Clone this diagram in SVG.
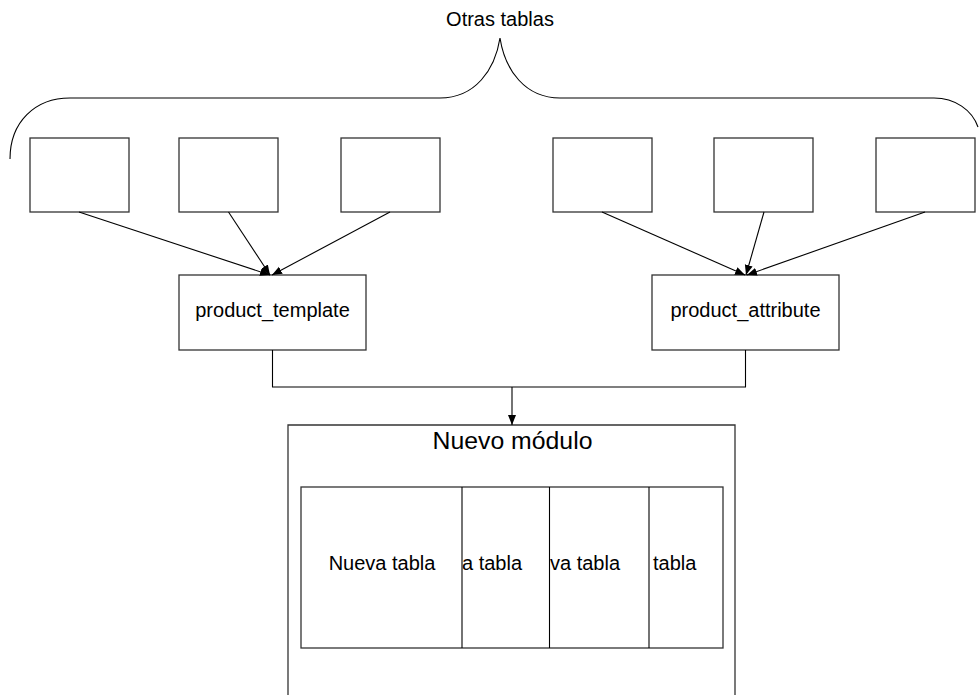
<svg xmlns="http://www.w3.org/2000/svg" width="979" height="695" viewBox="0 0 979 695">
<style>
.box{fill:#fff;stroke:#333;stroke-width:1.3}
.ln{fill:none;stroke:#000;stroke-width:1.1}
.t{font-family:"Liberation Sans",Arial,sans-serif;fill:#000}
</style>
<defs>
<marker id="ah" viewBox="0 0 10 10" refX="10" refY="5" markerWidth="10" markerHeight="10" markerUnits="userSpaceOnUse" orient="auto">
<path d="M0,1 L10,5 L0,9 Z" fill="#000"/>
</marker>
</defs>
<rect width="979" height="695" fill="#fff"/>
<g id="brace">
<path class="ln" d="M10,159 C10,122 35,98 70,98 L440,98 C475,98 495,70 500,38 C505,70 525,98 560,98 L934,98 C955,98 972,110 978,127"/>
<text class="t" x="500" y="26" font-size="20" text-anchor="middle">Otras tablas</text>
</g>
<g id="t1"><rect class="box" x="30" y="138" width="99" height="74"/></g>
<g id="t2"><rect class="box" x="179" y="138" width="99" height="74"/></g>
<g id="t3"><rect class="box" x="341" y="138" width="99" height="74"/></g>
<g id="t4"><rect class="box" x="553" y="138" width="99" height="74"/></g>
<g id="t5"><rect class="box" x="714" y="138" width="99" height="74"/></g>
<g id="t6"><rect class="box" x="876" y="138" width="99" height="74"/></g>
<g id="product_template">
<rect class="box" x="179" y="275" width="187" height="75"/>
<text class="t" x="272.5" y="317" font-size="20" text-anchor="middle">product_template</text>
</g>
<g id="product_attribute">
<rect class="box" x="652" y="275" width="187" height="75"/>
<text class="t" x="745.5" y="317" font-size="20" text-anchor="middle">product_attribute</text>
</g>
<g id="nuevo_modulo">
<path class="box" d="M288,695 L288,425 L735,425 L735,695" fill="#fff"/>
<text class="t" x="512.5" y="449" font-size="24.8" text-anchor="middle">Nuevo módulo</text>
<rect class="box" x="301" y="487" width="422" height="161"/>
<line class="ln" x1="462" y1="487" x2="462" y2="648" stroke="#333"/>
<line class="ln" x1="549.5" y1="487" x2="549.5" y2="648" stroke="#333"/>
<line class="ln" x1="649" y1="487" x2="649" y2="648" stroke="#555"/>
<text class="t" x="382" y="569.5" font-size="20" text-anchor="middle">Nueva tabla</text>
<text class="t" x="462" y="569.5" font-size="20">a tabla</text>
<text class="t" x="550" y="569.5" font-size="20">va tabla</text>
<text class="t" x="653" y="569.5" font-size="20">tabla</text>
</g>
<g id="connectors">
<line class="ln" x1="79" y1="212" x2="270" y2="275" marker-end="url(#ah)"/>
<line class="ln" x1="228.5" y1="212" x2="270" y2="275" marker-end="url(#ah)"/>
<line class="ln" x1="390" y1="212" x2="272" y2="275" marker-end="url(#ah)"/>
<line class="ln" x1="602" y1="212" x2="745" y2="275" marker-end="url(#ah)"/>
<line class="ln" x1="764" y1="212" x2="746" y2="275" marker-end="url(#ah)"/>
<line class="ln" x1="925" y1="212" x2="747" y2="275" marker-end="url(#ah)"/>
<path class="ln" d="M272.5,350 L272.5,387 L745.5,387 L745.5,350"/>
<line class="ln" x1="512" y1="387" x2="512" y2="425" marker-end="url(#ah)"/>
</g>
</svg>
